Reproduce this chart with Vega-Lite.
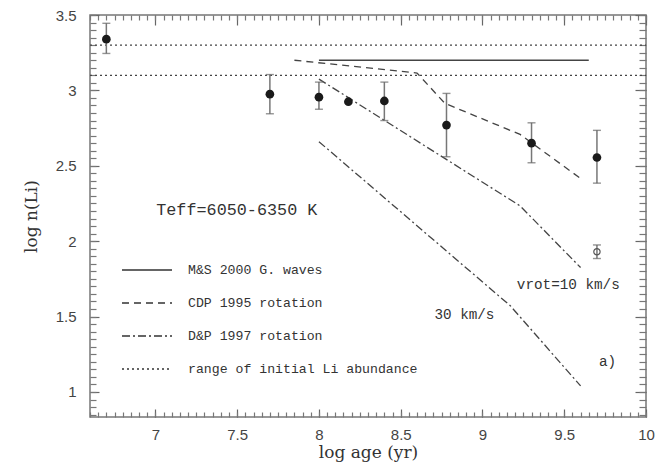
{
  "$schema": "https://vega.github.io/schema/vega-lite/v6.json",
  "autosize": "none",
  "width": 556,
  "height": 402,
  "padding": {"left": 90, "top": 15, "right": 22, "bottom": 52},
  "background": "white",
  "config": {
    "view": {"stroke": "#777", "strokeWidth": 1.5},
    "axis": {
      "grid": false,
      "domain": false,
      "labelFont": "Liberation Sans",
      "labelFontSize": 15,
      "labelColor": "#444",
      "titleFont": "DejaVu Serif",
      "titleFontSize": 17,
      "titleFontWeight": "normal",
      "titleColor": "#333",
      "labelOverlap": false,
      "labelFlush": false
    },
    "text": {"font": "Liberation Mono", "color": "#333"}
  },
  "datasets": {
    "models": [
      {"model": "M&S 2000 G. waves", "seg": "ms", "age": 8.0, "li": 3.2},
      {"model": "M&S 2000 G. waves", "seg": "ms", "age": 9.65, "li": 3.2},
      {"model": "CDP 1995 rotation", "seg": "cdp", "age": 7.85, "li": 3.2},
      {"model": "CDP 1995 rotation", "seg": "cdp", "age": 8.6, "li": 3.115},
      {"model": "CDP 1995 rotation", "seg": "cdp", "age": 8.77, "li": 2.914},
      {"model": "CDP 1995 rotation", "seg": "cdp", "age": 9.23, "li": 2.708},
      {"model": "CDP 1995 rotation", "seg": "cdp", "age": 9.6, "li": 2.416},
      {"model": "D&P 1997 rotation", "seg": "dp10", "age": 8.0, "li": 3.075},
      {"model": "D&P 1997 rotation", "seg": "dp10", "age": 9.23, "li": 2.234},
      {"model": "D&P 1997 rotation", "seg": "dp10", "age": 9.6, "li": 1.825},
      {"model": "D&P 1997 rotation", "seg": "dp30", "age": 8.0, "li": 2.66},
      {"model": "D&P 1997 rotation", "seg": "dp30", "age": 9.17, "li": 1.572},
      {"model": "D&P 1997 rotation", "seg": "dp30", "age": 9.6, "li": 1.04},
      {"model": "range of initial Li abundance", "seg": "rhi", "age": 6.6, "li": 3.3},
      {"model": "range of initial Li abundance", "seg": "rhi", "age": 10, "li": 3.3},
      {"model": "range of initial Li abundance", "seg": "rlo", "age": 6.6, "li": 3.1},
      {"model": "range of initial Li abundance", "seg": "rlo", "age": 10, "li": 3.1}
    ],
    "obs": [
      {"age": 6.7, "li": 3.34, "lo": 3.245, "hi": 3.445, "kind": "filled"},
      {"age": 7.7, "li": 2.975, "lo": 2.845, "hi": 3.105, "kind": "filled"},
      {"age": 8.0, "li": 2.955, "lo": 2.875, "hi": 3.055, "kind": "filled"},
      {"age": 8.18, "li": 2.925, "lo": null, "hi": null, "kind": "filled"},
      {"age": 8.4, "li": 2.93, "lo": 2.8, "hi": 3.055, "kind": "filled"},
      {"age": 8.78, "li": 2.77, "lo": 2.56, "hi": 2.98, "kind": "filled"},
      {"age": 9.3, "li": 2.65, "lo": 2.52, "hi": 2.785, "kind": "filled"},
      {"age": 9.7, "li": 2.555, "lo": 2.385, "hi": 2.735, "kind": "filled"},
      {"age": 9.7, "li": 1.93, "lo": 1.885, "hi": 1.975, "kind": "open"}
    ],
    "notes": [
      {"age": 7.005, "li": 2.205, "label": "Teff=6050-6350  K", "size": "big"},
      {"age": 9.21, "li": 1.707, "label": "vrot=10 km/s", "size": "mid"},
      {"age": 8.706, "li": 1.508, "label": "30 km/s", "size": "mid"},
      {"age": 9.712, "li": 1.202, "label": "a)", "size": "mid"}
    ]
  },
  "resolve": {"axis": {"x": "independent", "y": "independent"}},
  "layer": [
    {
      "data": {"name": "models"},
      "mark": {"type": "line", "stroke": "#444", "strokeWidth": 1.3},
      "encoding": {
        "x": {
          "field": "age", "type": "quantitative",
          "scale": {"domain": [6.6, 10], "nice": false, "zero": false},
          "axis": {
            "orient": "bottom",
            "title": "log age (yr)",
            "titlePadding": 2,
            "values": [7, 7.5, 8, 8.5, 9, 9.5, 10],
            "format": "~g",
            "ticks": true, "tickColor": "#666", "tickWidth": 1.2,
            "offset": -8,
            "tickSize": 8,
            "labelPadding": 10
          }
        },
        "y": {
          "field": "li", "type": "quantitative",
          "scale": {"domain": [0.834, 3.5], "nice": false, "zero": false},
          "axis": {
            "orient": "left",
            "title": "log n(Li)",
            "titlePadding": 15,
            "values": [1, 1.5, 2, 2.5, 3, 3.5],
            "format": "~g",
            "ticks": true, "tickColor": "#666", "tickWidth": 1.2,
            "offset": -9,
            "tickSize": 9,
            "labelPadding": 14
          }
        },
        "detail": {"field": "seg"},
        "strokeDash": {
          "field": "model", "type": "nominal",
          "scale": {
            "domain": ["M&S 2000 G. waves", "CDP 1995 rotation", "D&P 1997 rotation", "range of initial Li abundance"],
            "range": [[1, 0], [7, 5], [8, 3, 2, 3], [2, 3]]
          },
          "legend": {
            "orient": "none",
            "legendX": 31,
            "legendY": 229,
            "title": null,
            "padding": 0,
            "symbolType": "stroke",
            "symbolSize": 2500,
            "symbolStrokeWidth": 1.3,
            "symbolStrokeColor": "#333",
            "labelFont": "Liberation Mono",
            "labelFontSize": 13.2,
            "labelColor": "#333",
            "labelOffset": 15,
            "labelLimit": 400,
            "rowPadding": -23.6
          }
        }
      }
    },
    {
      "data": {"name": "obs"},
      "transform": [{"filter": "datum.lo != null"}],
      "mark": {"type": "rule", "stroke": "#777", "strokeWidth": 1.5},
      "encoding": {
        "x": {
          "field": "age", "type": "quantitative",
          "axis": {"orient": "top", "title": null, "labels": false, "values": [7, 7.5, 8, 8.5, 9, 9.5, 10], "ticks": true, "tickColor": "#666", "tickWidth": 1.2, "offset": -10, "tickSize": 10}
        },
        "y": {
          "field": "lo", "type": "quantitative",
          "axis": {"orient": "right", "title": null, "labels": false, "values": [1, 1.5, 2, 2.5, 3, 3.5], "ticks": true, "tickColor": "#666", "tickWidth": 1.2, "offset": -11, "tickSize": 11}
        },
        "y2": {"field": "hi"}
      }
    },
    {
      "data": {"name": "obs"},
      "transform": [{"filter": "datum.lo != null"}],
      "mark": {"type": "tick", "orient": "horizontal", "size": 8, "thickness": 1.4, "color": "#666"},
      "encoding": {
        "x": {
          "field": "age", "type": "quantitative",
          "axis": {
            "orient": "bottom", "title": null, "labels": false, "ticks": true, "tickColor": "#777", "tickWidth": 1.2, "offset": -5, "tickSize": 5,
            "values": [6.6,6.65,6.7,6.75,6.8,6.85,6.9,6.95,7,7.05,7.1,7.15,7.2,7.25,7.3,7.35,7.4,7.45,7.5,7.55,7.6,7.65,7.7,7.75,7.8,7.85,7.9,7.95,8,8.05,8.1,8.15,8.2,8.25,8.3,8.35,8.4,8.45,8.5,8.55,8.6,8.65,8.7,8.75,8.8,8.85,8.9,8.95,9,9.05,9.1,9.15,9.2,9.25,9.3,9.35,9.4,9.45,9.5,9.55,9.6,9.65,9.7,9.75,9.8,9.85,9.9,9.95,10]
          }
        },
        "y": {
          "field": "lo", "type": "quantitative",
          "axis": {
            "orient": "left", "title": null, "labels": false, "ticks": true, "tickColor": "#777", "tickWidth": 1.2, "offset": -6, "tickSize": 6,
            "values": [0.85,0.9,0.95,1,1.05,1.1,1.15,1.2,1.25,1.3,1.35,1.4,1.45,1.5,1.55,1.6,1.65,1.7,1.75,1.8,1.85,1.9,1.95,2,2.05,2.1,2.15,2.2,2.25,2.3,2.35,2.4,2.45,2.5,2.55,2.6,2.65,2.7,2.75,2.8,2.85,2.9,2.95,3,3.05,3.1,3.15,3.2,3.25,3.3,3.35,3.4,3.45,3.5]
          }
        }
      }
    },
    {
      "data": {"name": "obs"},
      "transform": [{"filter": "datum.hi != null"}],
      "mark": {"type": "tick", "orient": "horizontal", "size": 8, "thickness": 1.4, "color": "#666"},
      "encoding": {
        "x": {
          "field": "age", "type": "quantitative",
          "axis": {
            "orient": "top", "title": null, "labels": false, "ticks": true, "tickColor": "#777", "tickWidth": 1.2, "offset": -5, "tickSize": 5,
            "values": [6.6,6.65,6.7,6.75,6.8,6.85,6.9,6.95,7,7.05,7.1,7.15,7.2,7.25,7.3,7.35,7.4,7.45,7.5,7.55,7.6,7.65,7.7,7.75,7.8,7.85,7.9,7.95,8,8.05,8.1,8.15,8.2,8.25,8.3,8.35,8.4,8.45,8.5,8.55,8.6,8.65,8.7,8.75,8.8,8.85,8.9,8.95,9,9.05,9.1,9.15,9.2,9.25,9.3,9.35,9.4,9.45,9.5,9.55,9.6,9.65,9.7,9.75,9.8,9.85,9.9,9.95,10]
          }
        },
        "y": {
          "field": "hi", "type": "quantitative",
          "axis": {
            "orient": "right", "title": null, "labels": false, "ticks": true, "tickColor": "#777", "tickWidth": 1.2, "offset": -7, "tickSize": 7,
            "values": [0.85,0.9,0.95,1,1.05,1.1,1.15,1.2,1.25,1.3,1.35,1.4,1.45,1.5,1.55,1.6,1.65,1.7,1.75,1.8,1.85,1.9,1.95,2,2.05,2.1,2.15,2.2,2.25,2.3,2.35,2.4,2.45,2.5,2.55,2.6,2.65,2.7,2.75,2.8,2.85,2.9,2.95,3,3.05,3.1,3.15,3.2,3.25,3.3,3.35,3.4,3.45,3.5]
          }
        }
      }
    },
    {
      "data": {"name": "obs"},
      "transform": [{"filter": "datum.kind == 'filled'"}],
      "mark": {"type": "point", "shape": "circle", "filled": true, "color": "#1a1a1a", "size": 75, "opacity": 1},
      "encoding": {
        "x": {"field": "age", "type": "quantitative", "axis": null},
        "y": {"field": "li", "type": "quantitative", "axis": null}
      }
    },
    {
      "data": {"name": "obs"},
      "transform": [{"filter": "datum.kind == 'open'"}],
      "mark": {"type": "point", "shape": "circle", "filled": false, "stroke": "#555", "strokeWidth": 1.2, "size": 40, "opacity": 1},
      "encoding": {
        "x": {"field": "age", "type": "quantitative", "axis": null},
        "y": {"field": "li", "type": "quantitative", "axis": null}
      }
    },
    {
      "data": {"name": "notes"},
      "mark": {"type": "text", "align": "left", "baseline": "middle"},
      "encoding": {
        "x": {"field": "age", "type": "quantitative", "axis": null},
        "y": {"field": "li", "type": "quantitative", "axis": null},
        "text": {"field": "label"},
        "size": {"field": "size", "type": "nominal", "scale": {"domain": ["big", "mid"], "range": [16.8, 14.3]}, "legend": null}
      }
    }
  ]
}
